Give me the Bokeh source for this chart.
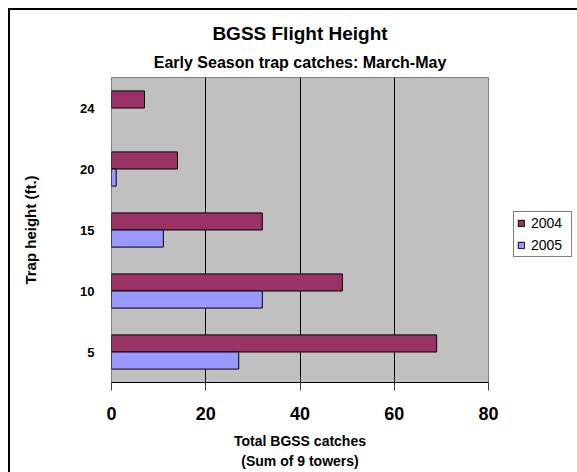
from bokeh.plotting import figure
from bokeh.models import (FactorRange, Range1d, Legend, LegendItem, ColumnDataSource,
                          Title, FixedTicker)
from bokeh.transform import dodge
from bokeh.embed import file_html
from bokeh.resources import INLINE

# ---- data ----
heights = ["5", "10", "15", "20", "24"]
catches_2004 = [69, 49, 32, 14, 7]
catches_2005 = [27, 32, 11, 1, 0]
x_ticks = [0, 20, 40, 60, 80]
series_names = ["2004", "2005"]
series_colors = ["#993366", "#9999FF"]

FONT = "Liberation Sans"

p = figure(y_range=FactorRange(factors=heights, range_padding=0),
           x_range=Range1d(0, 80),
           frame_width=377, frame_height=305,
           min_border_left=101, min_border_right=89,
           min_border_top=67, min_border_bottom=90,
           output_backend="svg", toolbar_location=None)
p.styles = {"border-top": "2px solid #000000", "border-left": "2px solid #000000",
            "margin-left": "8px", "margin-top": "8px"}

p.background_fill_color = "#C0C0C0"
p.border_fill_color = "white"
p.outline_line_color = "#808080"
p.outline_line_width = 1

# titles (subtitle added first so it sits next to the plot)
p.add_layout(Title(text="Early Season trap catches: March-May", align="center",
                   text_font=FONT, text_font_size="16px", text_font_style="bold",
                   text_color="black", standoff=14), "above")
p.add_layout(Title(text="BGSS Flight Height", align="center",
                   text_font=FONT, text_font_size="19px", text_font_style="bold",
                   text_color="black", standoff=1), "above")

# bars
src04 = ColumnDataSource(dict(h=heights, v=catches_2004))
h05 = [h for h, v in zip(heights, catches_2005) if v > 0]
v05 = [v for v in catches_2005 if v > 0]
src05 = ColumnDataSource(dict(h=h05, v=v05))

r04 = p.hbar(y=dodge("h", 0.14, range=p.y_range), left=0, right="v", height=0.28,
             source=src04, fill_color=series_colors[0], line_color="black", line_width=1)
r05 = p.hbar(y=dodge("h", -0.14, range=p.y_range), left=0, right="v", height=0.28,
             source=src05, fill_color=series_colors[1], line_color="black", line_width=1)

# grid
p.ygrid.grid_line_color = None
p.xgrid.grid_line_color = "black"
p.xgrid.grid_line_width = 1
p.xgrid.ticker = FixedTicker(ticks=x_ticks)

# x axis
p.xaxis.ticker = FixedTicker(ticks=x_ticks)
p.xaxis.axis_line_color = "black"
p.xaxis.major_tick_line_color = "#404040"
p.xaxis.major_tick_out = 8
p.xaxis.major_tick_in = 0
p.xaxis.minor_tick_line_color = None
p.xaxis.major_label_standoff = 16
p.xaxis.major_label_text_font = FONT
p.xaxis.major_label_text_font_size = "18px"
p.xaxis.major_label_text_font_style = "bold"
p.xaxis.major_label_text_color = "black"
p.xaxis.axis_label = "Total BGSS catches\n(Sum of 9 towers)"
p.xaxis.axis_label_text_font = FONT
p.xaxis.axis_label_text_font_size = "14px"
p.xaxis.axis_label_text_font_style = "bold"
p.xaxis.axis_label_text_color = "black"
p.xaxis.axis_label_text_line_height = 1.3
p.xaxis.axis_label_standoff = 10

# y axis
p.yaxis.axis_line_color = None
p.yaxis.major_tick_line_color = None
p.yaxis.major_tick_out = 0
p.yaxis.major_label_standoff = 17
p.yaxis.major_label_text_font = FONT
p.yaxis.major_label_text_font_size = "13px"
p.yaxis.major_label_text_font_style = "bold"
p.yaxis.major_label_text_color = "black"
p.yaxis.axis_label = "Trap height (ft.)"
p.yaxis.axis_label_text_font = FONT
p.yaxis.axis_label_text_font_size = "15px"
p.yaxis.axis_label_text_font_style = "bold"
p.yaxis.axis_label_text_color = "black"
p.yaxis.axis_label_standoff = 38

# legend (in the right side panel, outside the plot area)
legend = Legend(items=[LegendItem(label=series_names[0], renderers=[r04]),
                       LegendItem(label=series_names[1], renderers=[r05])],
                location=(25, 125), orientation="vertical",
                border_line_color="black", border_line_width=1,
                background_fill_color="white", background_fill_alpha=1,
                label_text_font=FONT, label_text_font_size="14px",
                label_text_color="black",
                glyph_width=8, glyph_height=8, label_standoff=6,
                label_height=16, label_width=37, padding=3, spacing=6, margin=0)
p.add_layout(legend, "right")

open("out.html", "w").write(file_html(p, INLINE))
